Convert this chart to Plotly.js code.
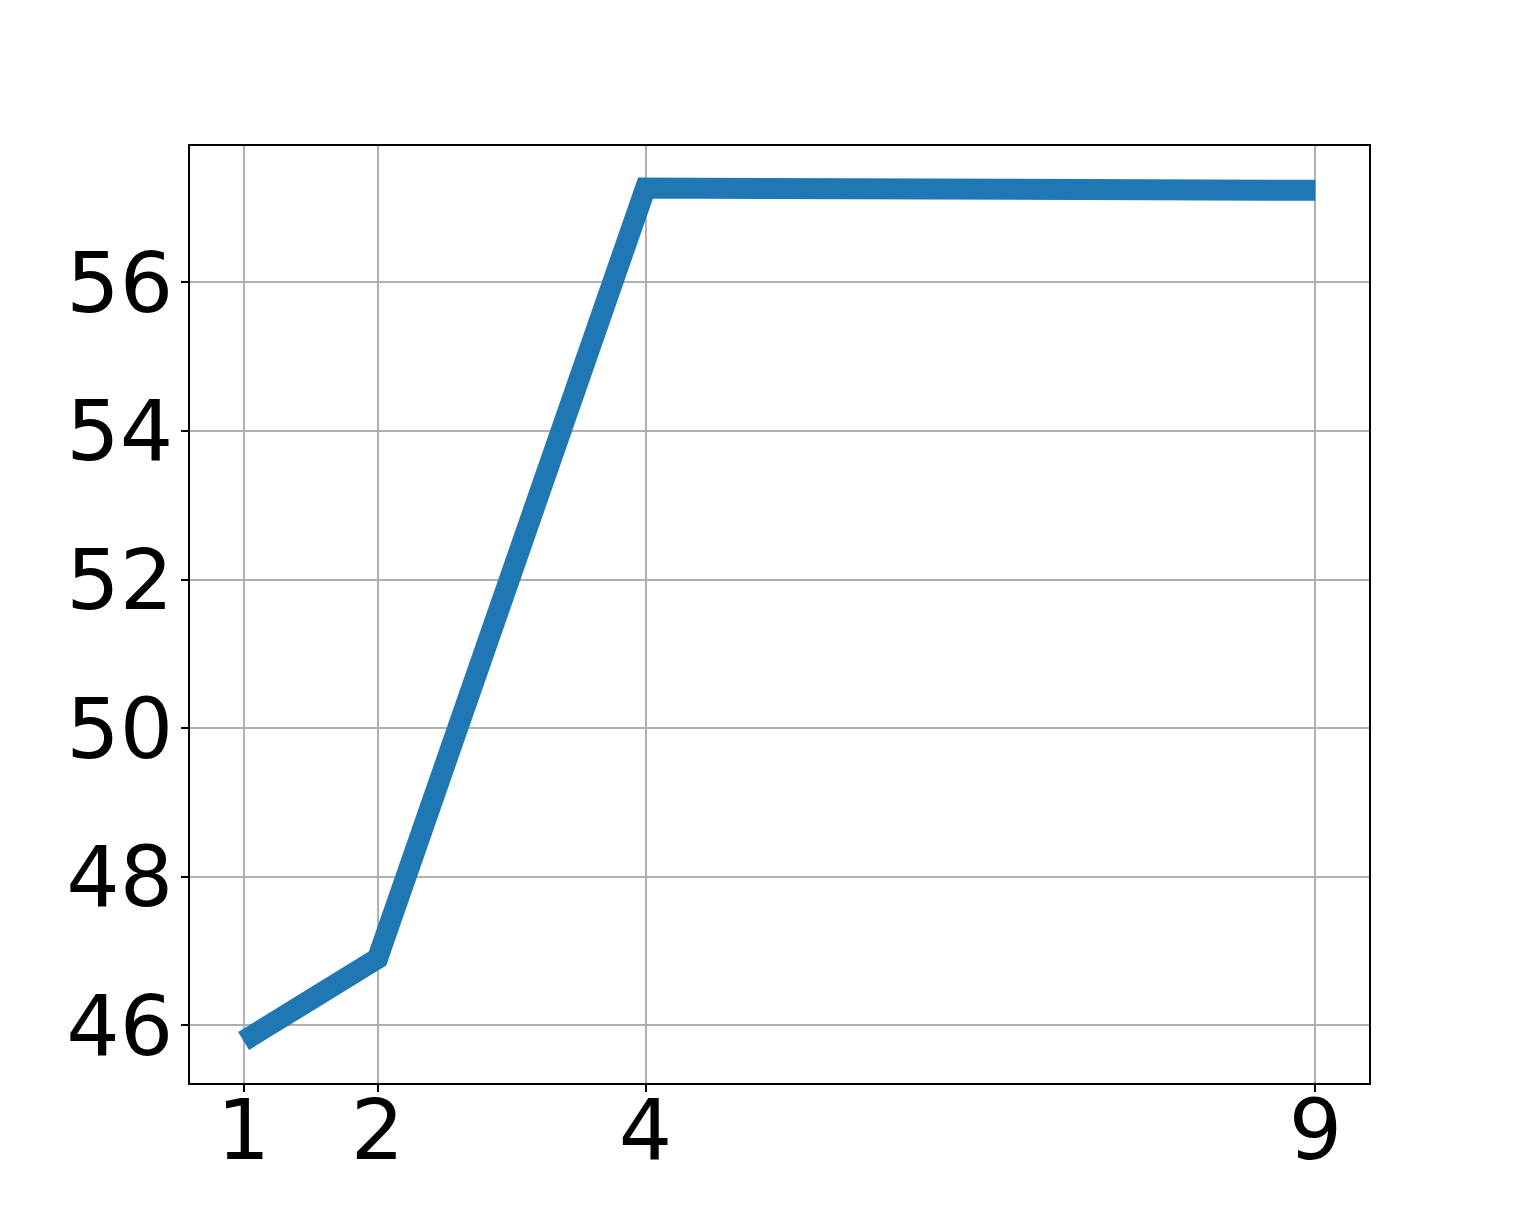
<!DOCTYPE html>
<html>
<head>
<meta charset="utf-8">
<script src="https://cdn.plot.ly/plotly-3.0.1.min.js"></script>
<style>
  body { margin: 0; background: #fff; }
  #plot { width: 1522px; height: 1218px; }
</style>
</head>
<body>
<div id="plot"></div>
<script>
// values
const xs = [1, 2, 4, 9]
const ys = [45.79, 46.9, 57.27, 57.24]
const x_ticks = [1, 2, 4, 9]
const y_ticks = [46, 48, 50, 52, 54, 56]

const axis_common = {
    showline: true,
    mirror: true,
    linecolor: '#000000',
    linewidth: 2,
    ticks: 'outside',
    ticklen: 7,
    tickwidth: 2,
    tickcolor: '#000000',
    showgrid: true,
    gridcolor: '#b0b0b0',
    gridwidth: 2,
    zeroline: false,
    tickfont: {family: 'DejaVu Sans', size: 84, color: '#000000'},
}

const trace = {
    type: 'scatter',
    mode: 'lines',
    x: xs,
    y: ys,
    line: {color: '#1f77b4', width: 21},
}

Plotly.newPlot('plot', [trace], {
    width: 1522,
    height: 1218,
    showlegend: false,
    paper_bgcolor: '#ffffff',
    plot_bgcolor: '#ffffff',
    margin: {l: 190, r: 153, t: 146, b: 135},
    xaxis: Object.assign({}, axis_common, {
        range: [0.6, 9.4],
        tickmode: 'array',
        tickvals: x_ticks,
        ticktext: x_ticks.map(String),
        ticklabelstandoff: -34,
    }),
    yaxis: Object.assign({}, axis_common, {
        range: [45.224, 57.836],
        tickmode: 'array',
        tickvals: y_ticks,
        ticktext: y_ticks.map(String),
        ticklabelstandoff: -9,
    }),
}, {displayModeBar: false})
</script>
</body>
</html>
